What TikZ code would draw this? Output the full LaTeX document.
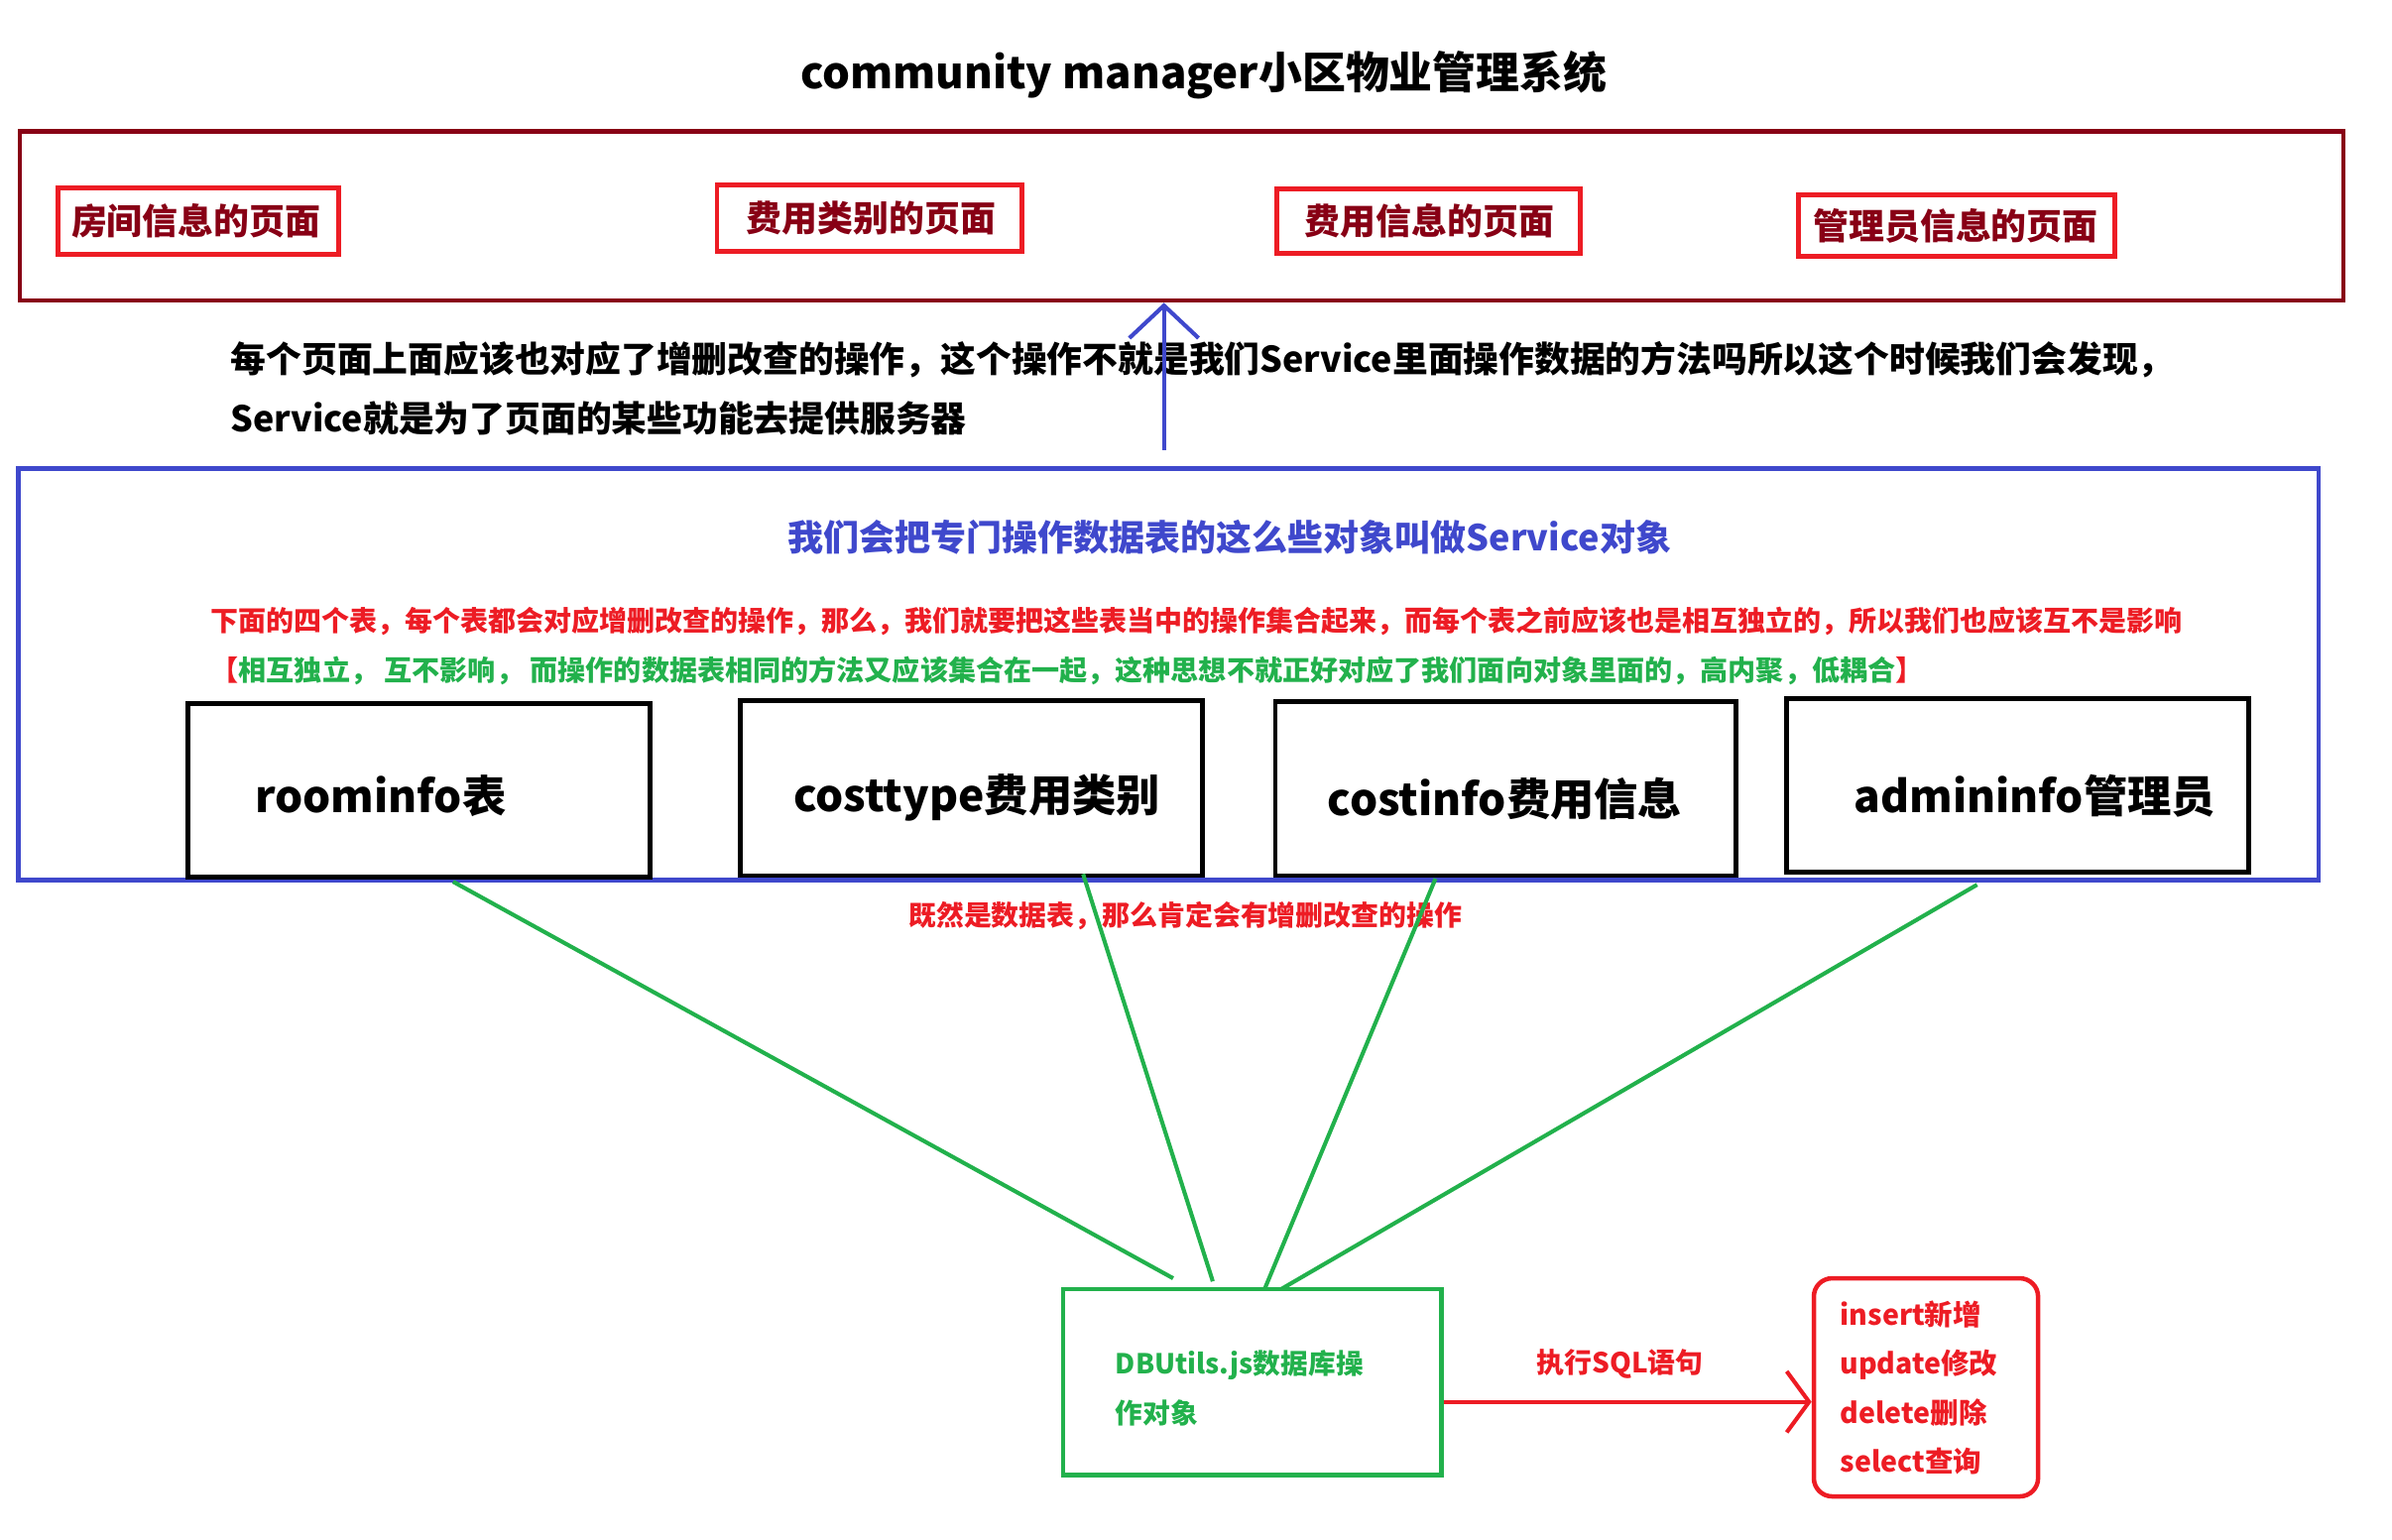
\documentclass[tikz,border=0pt]{standalone}
\usepackage{fontspec}
\setmainfont{Noto Sans CJK SC}
\usetikzlibrary{arrows.meta,fit,calc}
\definecolor{dred}{HTML}{880015}
\definecolor{pred}{HTML}{ED1C24}
\definecolor{pblue}{HTML}{3F48CC}
\definecolor{pgreen}{HTML}{22B14C}
\begin{document}
\begin{tikzpicture}[x=0.75pt,y=-0.75pt,
  box/.style={draw, inner sep=0pt, line width=2.2pt},
  pagebox/.style={box, draw=pred, line width=2.4pt},
  tablebox/.style={box, draw=black, line width=2.4pt},
  txt/.style={inner sep=0pt, font=\bfseries},
  fs/.style={font=\fontsize{#1}{#1}\selectfont\bfseries},
  conn/.style={draw=pgreen, line width=2pt}
]
\useasboundingbox (0,0) rectangle (1568,1009);

% title
\node[txt, fs=21.4, anchor=base] (title) at (789,58) {community manager小区物业管理系统};

% pages box
\node[box, draw=dred, fit={(13,86) (1536,197)}] (pages) {};
\node[pagebox, fit={(38,123) (222,167)}] (b1) {};
\node[pagebox, fit={(470,121) (670,165)}] (b2) {};
\node[pagebox, fit={(837,124) (1036,166)}] (b3) {};
\node[pagebox, fit={(1179,128) (1386,168)}] (b4) {};
\node[txt, fs=17.5, text=dred, anchor=base] (b1t) at (128.5,154) {房间信息的页面};
\node[txt, fs=17.5, text=dred, anchor=base] (b2t) at (571,152) {费用类别的页面};
\node[txt, fs=17.5, text=dred, anchor=base] (b3t) at (937,154) {费用信息的页面};
\node[txt, fs=17.5, text=dred, anchor=base] (b4t) at (1282,157) {管理员信息的页面};

% explanation text
\node[txt, fs=17.45, anchor=base west] (ex1) at (151,244) {每个页面上面应该也对应了增删改查的操作，这个操作不就是我们Service里面操作数据的方法吗所以这个时候我们会发现，};
\node[txt, fs=17.45, anchor=base west] (ex2) at (151,283) {Service就是为了页面的某些功能去提供服务器};

% service box
\node[box, draw=pblue, fit={(12,307) (1520,577)}] (service) {};
\coordinate (arrstart) at (763,295);
\draw[pblue, line width=2pt, -{Straight Barb[length=16pt,width=34pt,line width=2pt]}] (arrstart) -- (arrstart |- pages.south);

\node[txt, fs=17.55, text=pblue, anchor=base] (svc) at (806,361) {我们会把专门操作数据表的这么些对象叫做Service对象};
\node[txt, fs=13.65, text=pred, anchor=base west] (l1) at (138,414) {下面的四个表，每个表都会对应增删改查的操作，那么，我们就要把这些表当中的操作集合起来，而每个表之前应该也是相互独立的，所以我们也应该互不是影响};
\node[txt, fs=13.7, text=pgreen, anchor=base west] (l2) at (138,446) {\textcolor{pred}{【}相互独立， 互不影响， 而操作的数据表相同的方法又应该集合在一起，这种思想不就正好对应了我们面向对象里面的，高内聚，低耦合\textcolor{pred}{】}};

% table boxes
\node[tablebox, fit={(123,461) (426,575)}] (t1) {};
\node[tablebox, fit={(485,459) (788,574)}] (t2) {};
\node[tablebox, fit={(836,460) (1138,574)}] (t3) {};
\node[tablebox, fit={(1171,458) (1474,572)}] (t4) {};
\node[txt, fs=21.6, anchor=base west] (t1t) at (167,533) {roominfo表};
\node[txt, fs=21.6, anchor=base west] (t2t) at (520,532) {costtype费用类别};
\node[txt, fs=21.6, anchor=base west] (t3t) at (870,535) {costinfo费用信息};
\node[txt, fs=21.6, anchor=base west] (t4t) at (1215,533) {admininfo管理员};

\node[txt, fs=13.6, text=pred, anchor=base] (crud) at (777,607) {既然是数据表，那么肯定会有增删改查的操作};

% DBUtils box
\node[box, draw=pgreen, fit={(697,845) (945,967)}] (db) {};
\node[txt, fs=13.5, text=pgreen, anchor=base west] (db1) at (731,901) {DBUtils.js数据库操};
\node[txt, fs=13.5, text=pgreen, anchor=base west] (db2) at (731,933) {作对象};

% green connectors
\coordinate (s1) at (297,578);
\coordinate (s2) at (710,573);
\coordinate (s3) at (941,576);
\coordinate (s4) at (1296,580);
\coordinate (e1) at (769,838);
\coordinate (e2) at (795,840);
\coordinate (e3) at (829,845);
\coordinate (e4) at (840,845);
\draw[conn] (s1) -- (e1);
\draw[conn] (s2) -- (e2);
\draw[conn] (s3) -- (e3);
\draw[conn] (s4) -- (e4);

% SQL box
\node[box, draw=pred, rounded corners=9pt, fit={(1189,838) (1336,981)}] (sql) {};
\node[txt, fs=13.9, text=pred, anchor=base west] (q1) at (1206,869) {insert新增};
\node[txt, fs=13.9, text=pred, anchor=base west] (q2) at (1206,901) {update修改};
\node[txt, fs=13.9, text=pred, anchor=base west] (q3) at (1206,933) {delete删除};
\node[txt, fs=13.9, text=pred, anchor=base west] (q4) at (1206,965) {select查询};

\draw[pred, line width=2pt, -{Straight Barb[length=11pt,width=30pt,line width=2pt]}] (db.east |- 0,919) -- (sql.west |- 0,919);
\node[txt, fs=13.6, text=pred, anchor=base] (exec) at (1062,900) {执行SQL语句};
\end{tikzpicture}
\end{document}
